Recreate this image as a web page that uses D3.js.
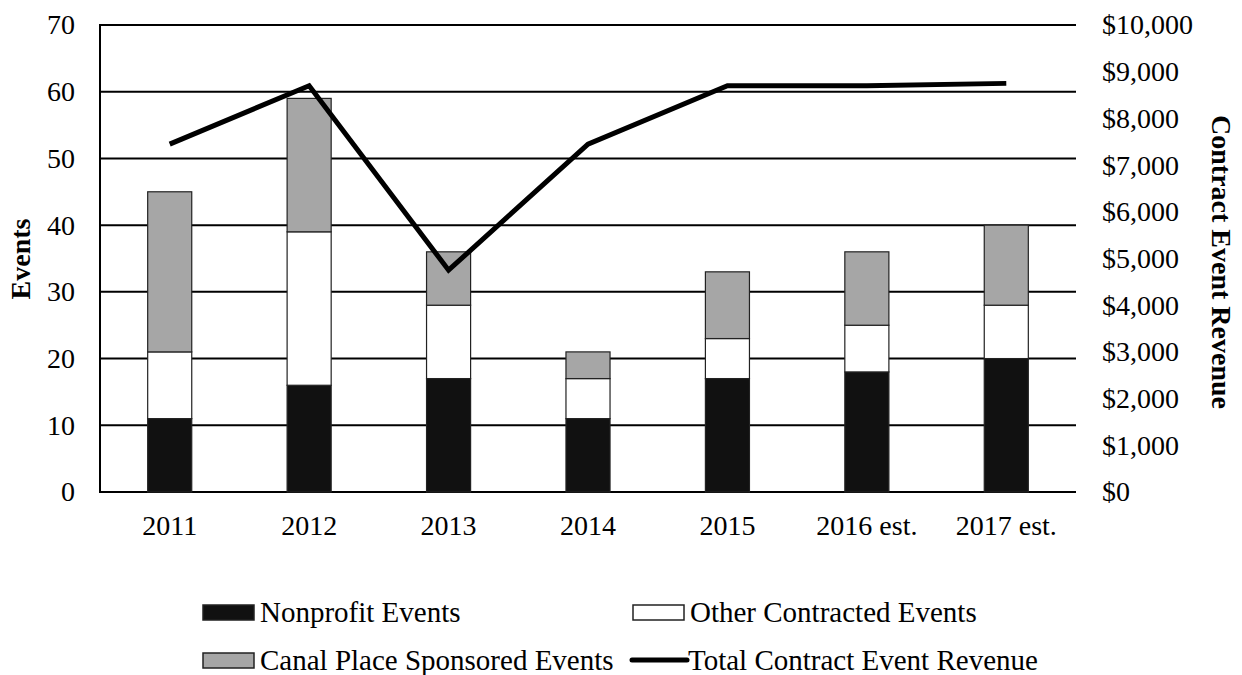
<!DOCTYPE html>
<html>
<head>
<meta charset="utf-8">
<script src="https://cdn.jsdelivr.net/npm/d3@7"></script>
<style>
	body { margin: 0; background: #fff; }
	svg { display: block; font-family: "Liberation Serif", "Times New Roman", serif; }
</style>
</head>
<body>
<svg width="1242" height="675"></svg>
<script>
// Canal Place events and contract revenue

var years = ['2011', '2012', '2013', '2014', '2015', '2016 est.', '2017 est.']
var nonprofit = [11, 16, 17, 11, 17, 18, 20]
var otherContracted = [10, 23, 11, 6, 6, 7, 8]
var canalSponsored = [24, 20, 8, 4, 10, 11, 12]
var revenue = [7450, 8700, 4750, 7450, 8700, 8700, 8750]
var eventTicks = [0, 10, 20, 30, 40, 50, 60, 70]
var revenueTicks = [0, 1000, 2000, 3000, 4000, 5000, 6000, 7000, 8000, 9000, 10000]

var seriesNames = ['Nonprofit Events', 'Other Contracted Events', 'Canal Place Sponsored Events']
var seriesColors = ['#111111', '#ffffff', '#a6a6a6']

var svg = d3.select('svg')
var plotLeft = 100, plotRight = 1076, plotTop = 25, plotBottom = 492

var x = d3.scaleBand().domain(years).range([plotLeft, plotRight]).paddingInner(0.684).paddingOuter(0.342)
var y = d3.scaleLinear().domain([0, 70]).range([plotBottom, plotTop])
var y2 = d3.scaleLinear().domain([0, 10000]).range([plotBottom, plotTop])

// gridlines
svg.append('g')
	.selectAll('line')
	.data(eventTicks)
	.enter()
	.append('line')
	.attr('x1', plotLeft).attr('x2', plotRight)
	.attr('y1', function(d) { return y(d) })
	.attr('y2', function(d) { return y(d) })
	.attr('stroke', '#000').attr('stroke-width', 2)

svg.append('line')
	.attr('x1', plotLeft).attr('x2', plotLeft)
	.attr('y1', plotTop - 1).attr('y2', plotBottom + 1)
	.attr('stroke', '#000').attr('stroke-width', 2)

// stacked bars
var table = years.map(function(yr, i) {
	return { year: yr, a: nonprofit[i], b: otherContracted[i], c: canalSponsored[i] }
})
var stack = d3.stack().keys(['a', 'b', 'c'])(table)

svg.append('g')
	.selectAll('g')
	.data(stack)
	.enter()
	.append('g')
	.attr('fill', function(d, i) { return seriesColors[i] })
	.selectAll('rect')
	.data(function(d) { return d })
	.enter()
	.append('rect')
	.attr('x', function(d) { return x(d.data.year) })
	.attr('width', x.bandwidth())
	.attr('y', function(d) { return y(d[1]) })
	.attr('height', function(d) { return y(d[0]) - y(d[1]) })
	.attr('stroke', '#222').attr('stroke-width', 1.2)

// revenue line
var line = d3.line()
	.x(function(d, i) { return x(years[i]) + x.bandwidth() / 2 })
	.y(function(d) { return y2(d) })

svg.append('path')
	.datum(revenue)
	.attr('d', line)
	.attr('fill', 'none')
	.attr('stroke', '#000')
	.attr('stroke-width', 5)
	.attr('stroke-linejoin', 'miter')

// axes
svg.append('g')
	.attr('transform', 'translate(75,0)')
	.call(d3.axisLeft(y).tickValues(eventTicks).tickSize(0).tickPadding(0))
svg.append('g')
	.attr('transform', 'translate(1102,0)')
	.call(d3.axisRight(y2).tickValues(revenueTicks).tickSize(0).tickPadding(0)
		.tickFormat(function(d) { return '$' + d3.format(',')(d) }))
svg.append('g')
	.attr('transform', 'translate(0,' + (plotBottom + 15) + ')')
	.call(d3.axisBottom(x).tickSize(0).tickPadding(8))

svg.selectAll('.domain').remove()
svg.selectAll('.tick text')
	.attr('font-family', '"Liberation Serif", serif')
	.attr('font-size', 28)
	.attr('fill', '#000')

// axis titles
svg.append('text')
	.attr('transform', 'translate(30,259) rotate(-90)')
	.attr('text-anchor', 'middle')
	.attr('font-size', 28).attr('font-weight', 'bold')
	.text('Events')
svg.append('text')
	.attr('transform', 'translate(1212,262) rotate(90)')
	.attr('text-anchor', 'middle')
	.attr('font-size', 28).attr('font-weight', 'bold')
	.text('Contract Event Revenue')

// legend
var legendPos = [[203, 612], [633, 612], [203, 660]]
seriesNames.forEach(function(name, i) {
	var p = legendPos[i]
	svg.append('rect')
		.attr('x', p[0]).attr('y', p[1] - 7).attr('width', 51).attr('height', 15)
		.attr('fill', seriesColors[i]).attr('stroke', '#222').attr('stroke-width', 1.5)
	svg.append('text')
		.attr('x', p[0] + 57).attr('y', p[1] + 10)
		.attr('font-size', 29)
		.text(name)
})
svg.append('line')
	.attr('x1', 632).attr('x2', 687).attr('y1', 660).attr('y2', 660)
	.attr('stroke', '#000').attr('stroke-width', 5)
	.attr('stroke-linecap', 'round')
svg.append('text')
	.attr('x', 688).attr('y', 670)
	.attr('font-size', 29)
	.text('Total Contract Event Revenue')
</script>
</body>
</html>
